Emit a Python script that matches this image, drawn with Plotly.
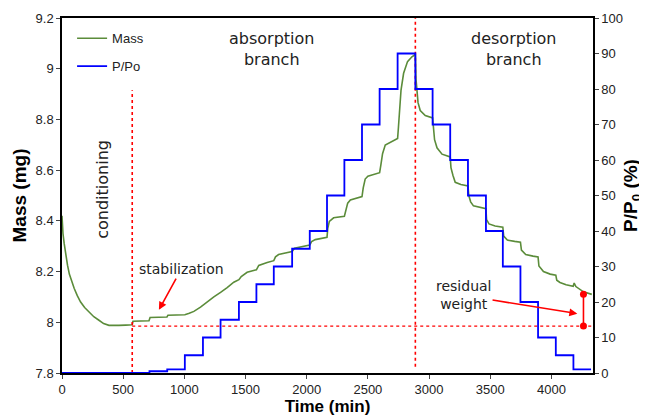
import plotly.graph_objects as go

# ---------------- data ----------------
mass_time = [0, 3, 8, 18, 30, 45, 60, 80, 100, 125, 152, 185, 220, 260, 302, 340, 384, 420, 465, 520, 574,
             580, 711, 720, 858, 866, 1004, 1040, 1078, 1132, 1152, 1187, 1241, 1296, 1320, 1350, 1404, 1446,
             1465, 1513, 1581, 1589, 1608, 1640, 1677, 1731, 1745, 1770, 1840, 1881, 1900, 1950, 2025, 2040,
             2070, 2166, 2172, 2185, 2220, 2308, 2318, 2335, 2357, 2411, 2452, 2462, 2478, 2500, 2547, 2596,
             2606, 2620, 2642, 2697, 2743, 2750, 2757, 2771, 2792, 2824, 2860, 2888,
             2893, 2900, 2910, 2928, 2969, 3029, 3035, 3045, 3065, 3106, 3173, 3179, 3195, 3214, 3260, 3318,
             3325, 3340, 3363, 3418, 3465, 3470, 3490, 3540, 3603, 3610, 3640, 3700, 3747, 3755, 3790, 3850,
             3891, 3898, 3935, 3990, 4036, 4044, 4070, 4120, 4178, 4186, 4200, 4262, 4330]
mass_mg = [8.42, 8.39, 8.35, 8.31, 8.265, 8.225, 8.19, 8.16, 8.133, 8.105, 8.080, 8.058, 8.040, 8.022, 8.008,
           7.995, 7.988, 7.987, 7.988, 7.989, 7.990,
           8.004, 8.006, 8.019, 8.021, 8.028, 8.030, 8.036, 8.043, 8.060, 8.068, 8.082, 8.100, 8.118, 8.126,
           8.137, 8.158, 8.168, 8.180, 8.197, 8.206, 8.207, 8.224, 8.231, 8.236, 8.243, 8.258, 8.267, 8.275,
           8.279, 8.292, 8.297, 8.305, 8.318, 8.326, 8.335, 8.370, 8.398, 8.412, 8.418, 8.440, 8.470, 8.482,
           8.489, 8.496, 8.530, 8.565, 8.576, 8.583, 8.590, 8.620, 8.665, 8.699, 8.714, 8.725, 8.770, 8.824,
           8.916, 8.982, 9.028, 9.047, 9.056,
           8.960, 8.900, 8.866, 8.835, 8.815, 8.806, 8.760, 8.720, 8.688, 8.663, 8.652, 8.610, 8.580, 8.552,
           8.543, 8.538, 8.500, 8.475, 8.459, 8.452, 8.448, 8.405, 8.388, 8.380, 8.375, 8.340, 8.324, 8.319,
           8.316, 8.285, 8.267, 8.261, 8.258, 8.222, 8.200, 8.190, 8.186, 8.166, 8.157, 8.148, 8.142, 8.155,
           8.141, 8.120, 8.110]

pp_time = [0, 715, 860, 1004, 1152, 1296, 1446, 1589, 1731, 1881, 2025, 2166, 2308, 2452, 2596, 2743,
           2888, 3029, 3173, 3318, 3465, 3603, 3747, 3891, 4036, 4180, 4324]
pp_pct = [0, 0.5, 1, 5, 10, 15, 20, 25, 30, 35, 40, 50, 60, 70, 80, 90,
          80, 70, 60, 50, 40, 30, 20, 10, 5, 1, 1]

x_ticks = [0, 500, 1000, 1500, 2000, 2500, 3000, 3500, 4000]
mass_ticks = [7.8, 8.0, 8.2, 8.4, 8.6, 8.8, 9.0, 9.2]
pp_ticks = [0, 10, 20, 30, 40, 50, 60, 70, 80, 90, 100]

# reference markers
stabilization_start = 574
desorption_start = 2888
baseline_mass = 7.985
residual_time = 4262
residual_top = 8.111
x_max = 4340

GREEN = "#5b8c3a"
BLUE = "#0000ff"
RED = "#ff0000"
TXT = "#222222"

fig = go.Figure()

fig.add_trace(go.Scatter(x=mass_time, y=mass_mg, mode="lines", name="Mass",
                         line=dict(color=GREEN, width=1.6), legendgroup="a"))
fig.add_trace(go.Scatter(x=pp_time, y=pp_pct, mode="lines", name="P/Po", yaxis="y2",
                         line=dict(color=BLUE, width=1.8, shape="hv"), legendgroup="b"))

# red dotted guide lines
fig.add_trace(go.Scatter(x=[stabilization_start, stabilization_start], y=[7.8, 8.915], mode="lines",
                         line=dict(color=RED, width=1.6, dash="dot"), showlegend=False))
fig.add_trace(go.Scatter(x=[desorption_start, desorption_start], y=[7.825, 9.2], mode="lines",
                         line=dict(color=RED, width=1.6, dash="dot"), showlegend=False))
fig.add_trace(go.Scatter(x=[stabilization_start, x_max], y=[baseline_mass, baseline_mass], mode="lines",
                         line=dict(color=RED, width=1.2, dash="dot"), showlegend=False))
# residual weight bar
fig.add_trace(go.Scatter(x=[residual_time, residual_time], y=[baseline_mass, residual_top], mode="lines+markers",
                         line=dict(color=RED, width=1.6), marker=dict(color=RED, size=7), showlegend=False))

ann_font = dict(family="DejaVu Sans", size=16, color=TXT)
small_font = dict(family="DejaVu Sans", size=14, color=TXT)
annotations = [
    dict(x=1713, y=9.077, text="absorption<br>branch", showarrow=False, font=ann_font),
    dict(x=3698, y=9.077, text="desorption<br>branch", showarrow=False, font=ann_font),
    dict(x=330, y=8.524, text="conditioning", textangle=-90, showarrow=False, font=ann_font),
    dict(x=792, y=8.049, ax=975, ay=8.21, axref="x", ayref="y", text="stabilization", showarrow=True,
         arrowhead=2, arrowsize=1, arrowwidth=1.6, arrowcolor=RED, font=small_font),
    dict(x=4212, y=8.034, ax=3282, ay=8.106, axref="x", ayref="y", text="residual<br>weight", showarrow=True,
         arrowhead=2, arrowsize=1, arrowwidth=1.6, arrowcolor=RED, font=small_font),
]

axis_common = dict(showline=True, linecolor="black", linewidth=1.5, ticks="outside", ticklen=4,
                   tickcolor="#444", showgrid=False, zeroline=False, automargin=False,
                   tickfont=dict(family="Liberation Sans, Arial", size=13, color=TXT))

# the page body adds an 8px offset, so the figure is sized to fit the 647x418 window
fig.update_layout(
    width=639, height=410,
    margin=dict(l=54, r=54, t=10, b=45),
    paper_bgcolor="white", plot_bgcolor="white",
    xaxis=dict(range=[0, x_max], tickvals=x_ticks, mirror=True,
               title=dict(text="<b>Time (min)</b>", standoff=2,
                          font=dict(family="Liberation Sans, Arial", size=17, color="black")),
               **axis_common),
    yaxis=dict(range=[7.8, 9.2], tickvals=mass_ticks, ticktext=[f"{v:g}" for v in mass_ticks],
               title=dict(text="<b>Mass (mg)</b>", standoff=4,
                          font=dict(family="Liberation Sans, Arial", size=19, color="black")),
               **axis_common),
    yaxis2=dict(range=[0, 100], tickvals=pp_ticks, overlaying="y", side="right",
                title=dict(text="<b>P/P<sub>0</sub> (%)</b>", standoff=2,
                           font=dict(family="Liberation Sans, Arial", size=19, color="black")),
                **axis_common),
    legend=dict(x=0.019, y=0.985, xanchor="left", yanchor="top", bgcolor="rgba(0,0,0,0)",
                font=dict(family="Liberation Sans, Arial", size=13, color=TXT), tracegroupgap=8),
    annotations=annotations,
    showlegend=True,
)

fig.write_html("out.html")
